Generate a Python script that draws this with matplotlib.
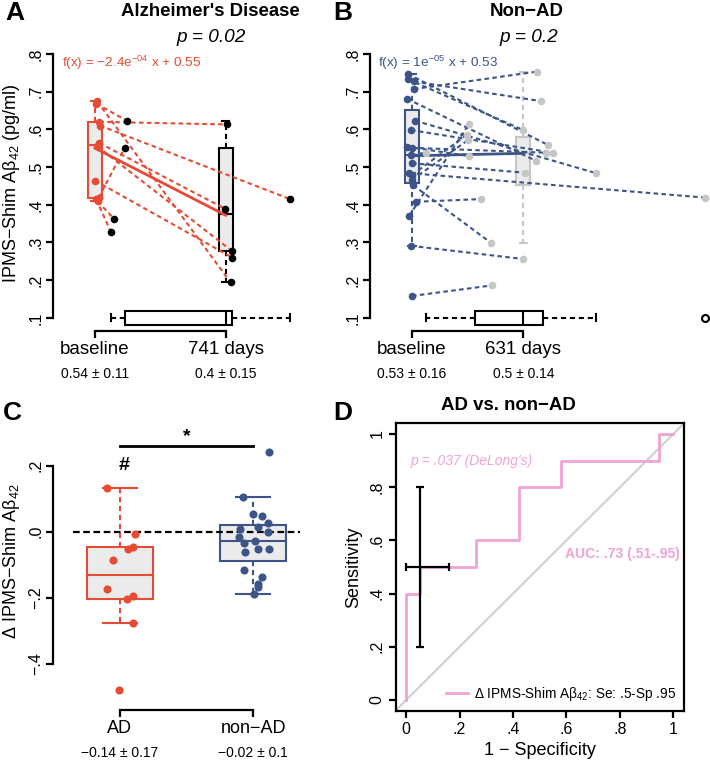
import numpy as np
import matplotlib
matplotlib.use('Agg')
import matplotlib.pyplot as plt
from matplotlib.transforms import blended_transform_factory

plt.rcParams['font.family'] = ['Liberation Sans', 'DejaVu Sans']
plt.rcParams['mathtext.fontset'] = 'custom'
plt.rcParams['mathtext.rm'] = 'Liberation Sans'
plt.rcParams['mathtext.it'] = 'Liberation Sans:italic'
plt.rcParams['mathtext.bf'] = 'Liberation Sans:bold'
plt.rcParams['axes.linewidth'] = 1.6

RED = '#E64B35'
BLUE = '#3C5488'
PINK = '#F0A4D4'
GREY = '#C6C6C6'
FILL = '#EBEBEB'

# A: Alzheimer's disease, one entry per subject
ad_base = [0.674, 0.668, 0.620, 0.610, 0.564, 0.555, 0.464, 0.418, 0.414, 0.409]
ad_follow = [0.194, 0.622, 0.613, 0.415, 0.390, 0.278, 0.260, 0.550, 0.328, 0.363]
ad_days = [769, 184, 747, 1106, 735, 775, 778, 168, 90, 107]
ad_jitter = [13, 8, 25, 28, 24, 13, 0, 20, 8, 15]
ad_fit = (-2.4e-4, 0.55)
ad_stats = ['0.54 ± 0.11', '0.4 ± 0.15']

# B: non-AD
nad_base = [0.747, 0.733, 0.727, 0.707, 0.681, 0.623, 0.598, 0.554, 0.551, 0.532,
            0.510, 0.484, 0.479, 0.466, 0.452, 0.408, 0.370, 0.291, 0.158]
nad_follow = [0.559, 0.598, 0.675, 0.753, 0.517, 0.484, 0.538, 0.529, 0.538, 0.538,
              0.485, 0.419, 0.585, 0.572, 0.299, 0.415, 0.614, 0.256, 0.186]
nad_days = [769, 631, 730, 707, 701, 1042, 801, 325, 760, 79,
            640, 1661, 310, 319, 448, 391, 323, 631, 452]
nad_jitter = [-23, -23, 11, 11, -28, 17, -6, -28, 0, -6,
              0, -17, 0, 0, 6, 23, -17, -6, 0]
nad_fit = (1e-5, 0.53)
nad_stats = ['0.53 ± 0.16', '0.5 ± 0.14']

# C: change from baseline
ad_delta = [0.132, -0.007, -0.052, -0.046, -0.086, -0.174, -0.204, -0.195, -0.277, -0.480]
ad_delta_jit = [-0.10, 0.11, 0.06, 0.10, -0.05, -0.10, 0.05, 0.10, 0.10, -0.01]
nad_delta = [0.242, 0.105, 0.053, 0.046, 0.026, 0.014, 0.008, -0.001, -0.015, -0.027,
             -0.035, -0.053, -0.053, -0.061, -0.116, -0.136, -0.158, -0.167, -0.190]
nad_delta_jit = [0.12, -0.075, 0.0, 0.068, 0.113, 0.038, -0.098, 0.113, -0.105, 0.015,
                 -0.068, 0.038, 0.12, -0.06, -0.068, 0.068, 0.038, 0.038, 0.008]
groups = ['AD', 'non−AD']
delta_stats = ['−0.14 ± 0.17', '−0.02 ± 0.1']

# D: ROC curve
roc_fpr = [0, 0, 0.053, 0.053, 0.263, 0.263, 0.421, 0.421, 0.579, 0.579, 0.947, 0.947, 1]
roc_tpr = [0, 0.4, 0.4, 0.5, 0.5, 0.6, 0.6, 0.8, 0.8, 0.9, 0.9, 1.0, 1.0]
cut_sens, cut_spec = 0.5, 0.95
sens_ci = (0.2, 0.8)
spec_ci = (0.84, 1.0)

W, H = 710, 760
fig = plt.figure(figsize=(W / 100, H / 100), dpi=100)


def fx(px):
    return px / W


def fy(py):
    return 1 - py / H


def add_ax(x0, y0, x1, y1):
    # pixel box, y measured from the top
    ax = fig.add_axes([x0 / W, 1 - y1 / H, (x1 - x0) / W, (y1 - y0) / H])
    ax.patch.set_visible(False)
    return ax


def box_stats(v):
    # Tukey hinges as in R's boxplot
    v = np.sort(np.asarray(v, float))
    n = len(v)
    n4 = np.floor((n + 3) / 2) / 2
    d = np.array([1, n4, (n + 1) / 2, n + 1 - n4, n]) - 1
    fn = 0.5 * (v[np.floor(d).astype(int)] + v[np.ceil(d).astype(int)])
    iqr = fn[3] - fn[1]
    ok = (v >= fn[1] - 1.5 * iqr) & (v <= fn[3] + 1.5 * iqr)
    return dict(med=fn[2], q1=fn[1], q3=fn[3], whislo=v[ok].min(),
                whishi=v[ok].max(), fliers=v[~ok])


def draw_box(ax, data, pos, width, col, orient='vertical', fliers=False, face=FILL):
    ax.bxp([box_stats(data)], positions=[pos], widths=width, orientation=orient,
           patch_artist=True, showfliers=fliers,
           boxprops=dict(facecolor=face, edgecolor=col, linewidth=1.5),
           medianprops=dict(color=col, linewidth=1.5),
           whiskerprops=dict(color=col, linewidth=1.5, linestyle=(0, (2.5, 1.8))),
           capprops=dict(color=col, linewidth=1.5),
           flierprops=dict(marker='o', markerfacecolor='none', markeredgecolor='black',
                           markersize=5, markeredgewidth=1.5))


DASH = (0, (2.2, 1.6))


def change_panel(ax, base, follow, days, jitter, fit, col, fcol, stats, xmax):
    med = np.median(days)
    draw_box(ax, days, 0.1, 0.037, 'black', orient='horizontal', fliers=True, face='white')
    draw_box(ax, base, 0, 80, col)
    draw_box(ax, follow, med, 80, fcol)
    for j, b, d, f in zip(jitter, base, days, follow):
        ax.plot([j, d], [b, f], color=col, lw=1.5, ls=DASH, zorder=3)
    xs = np.array([0, med])
    ax.plot(xs, fit[0] * xs + fit[1], color=col, lw=2, zorder=4)
    ax.scatter(jitter, base, s=30, color=col, zorder=5, linewidths=0)
    ax.scatter(days, follow, s=30, color=fcol, zorder=5, linewidths=0)

    ax.set_xlim(-238, xmax)
    ax.set_ylim(0.028, 0.837)
    ax.spines[['top', 'right']].set_visible(False)
    ax.spines['left'].set_bounds(0.1, 0.8)
    ax.spines['bottom'].set_position(('data', 0.0655))
    ax.spines['bottom'].set_bounds(0, med)
    yt = np.round(np.arange(0.1, 0.81, 0.1), 1)
    ax.set_yticks(yt, [('%.1f' % t)[1:] for t in yt], rotation=90, va='center')
    ax.set_xticks([0, med], ['baseline', '%d days' % med])
    ax.tick_params(axis='y', length=5, width=1.6, labelsize=11.5, pad=2)
    ax.tick_params(axis='x', length=5, width=1.6, labelsize=13.5, pad=2)
    tr = blended_transform_factory(ax.transData, fig.transFigure)
    for x, s in zip([0, med], stats):
        ax.text(x, fy(374), s, transform=tr, ha='center', va='center', fontsize=10)


# ---- panels A and B
axA = add_ax(53, 40, 345, 345)
change_panel(axA, ad_base, ad_follow, ad_days, ad_jitter, ad_fit, RED, 'black', ad_stats,
             (345 - 95) * 5.67)
axB = add_ax(370, 40, 710, 345)
change_panel(axB, nad_base, nad_follow, nad_days, nad_jitter, nad_fit, BLUE, GREY, nad_stats,
             (710 - 412) * 5.67)

fig.text(fx(12), fy(183), 'IPMS−Shim Aβ$_{42}$ (pg/ml)', rotation=90, ha='center', va='center',
         fontsize=13)
fig.text(fx(210), fy(12), "Alzheimer's Disease", ha='center', va='center', fontsize=13.4,
         fontweight='bold')
fig.text(fx(211), fy(37), 'p = 0.02', ha='center', va='center', fontsize=13.7, style='italic')
fig.text(fx(527), fy(12), 'Non−AD', ha='center', va='center', fontsize=13.4, fontweight='bold')
fig.text(fx(529), fy(37), 'p = 0.2', ha='center', va='center', fontsize=13.7, style='italic')
fig.text(fx(62), fy(63), 'f(x) = −2.4e$^{−04}$ x + 0.55', color=RED, ha='left', va='center',
         fontsize=9.7)
fig.text(fx(378), fy(63), 'f(x) = 1e$^{−05}$ x + 0.53', color=BLUE, ha='left', va='center',
         fontsize=9.7)

# ---- panel C
axC = add_ax(53, 430, 330, 720)
draw_box(axC, ad_delta, 1, 0.5, RED)
draw_box(axC, nad_delta, 2, 0.5, BLUE)
axC.hlines(0, 0.65, 2.35, colors='black', lw=1.6, linestyles=(0, (3, 1.6)), zorder=4)
axC.scatter(1 + np.array(ad_delta_jit), ad_delta, s=34, color=RED, zorder=5, linewidths=0)
axC.scatter(2 + np.array(nad_delta_jit), nad_delta, s=34, color=BLUE, zorder=5, linewidths=0)
axC.plot([1, 2], [0.26, 0.26], color='black', lw=2, clip_on=False)
axC.text(1.5, 0.288, '*', ha='center', va='center', fontsize=14, fontweight='bold')
axC.text(1.03, 0.2, '#', ha='center', va='center', fontsize=14, fontweight='bold')
axC.set_xlim(0.4974, 2.578)
axC.set_ylim(-0.5706, 0.308)
axC.spines[['top', 'right']].set_visible(False)
axC.spines['left'].set_bounds(-0.4, 0.2)
axC.spines['bottom'].set_position(('data', -0.54))
axC.spines['bottom'].set_bounds(1, 2)
axC.set_yticks([-0.4, -0.2, 0, 0.2], ['−.4', '−.2', '.0', '.2'], rotation=90, va='center')
axC.set_xticks([1, 2], groups)
axC.tick_params(axis='y', length=5, width=1.6, labelsize=11.5, pad=2)
axC.tick_params(axis='x', length=5, width=1.6, labelsize=13, pad=2)
trC = blended_transform_factory(axC.transData, fig.transFigure)
for x, s in zip([1, 2], delta_stats):
    axC.text(x, fy(753), s, transform=trC, ha='center', va='center', fontsize=10)
fig.text(fx(12), fy(561), 'Δ IPMS−Shim Aβ$_{42}$', rotation=90, ha='center', va='center',
         fontsize=13)

# ---- panel D
axD = add_ax(395.5, 423.4, 684, 710.6)
axD.patch.set_visible(True)
axD.axline((0, 0), (1, 1), color='#D0D0D0', lw=1.5, zorder=1)
axD.plot(roc_fpr, roc_tpr, color=PINK, lw=2,
         label='Δ IPMS-Shim Aβ$_{42}$: Se: .5-Sp .95', zorder=3)
axD.errorbar(1 - cut_spec, cut_sens,
             xerr=[[(1 - cut_spec) - (1 - spec_ci[1])], [(1 - spec_ci[0]) - (1 - cut_spec)]],
             yerr=[[cut_sens - sens_ci[0]], [sens_ci[1] - cut_sens]],
             fmt='none', ecolor='black', elinewidth=1.6, capsize=3, capthick=1.6, zorder=4)
axD.text(0.015, 0.9, "p = .037 (DeLong's)", color=PINK, style='italic', fontsize=10,
         ha='left', va='center')
axD.text(1.025, 0.55, 'AUC: .73 (.51-.95)', color=PINK, fontweight='bold', fontsize=10,
         ha='right', va='center')
axD.legend(loc='lower right', frameon=False, fontsize=9.8, handlelength=1.6,
           handletextpad=0.5, borderaxespad=0.15)
axD.set_xlim(-0.04, 1.04)
axD.set_ylim(-0.04, 1.04)
ticks = [0, 0.2, 0.4, 0.6, 0.8, 1]
tlab = ['0', '.2', '.4', '.6', '.8', '1']
axD.set_xticks(ticks, tlab)
axD.set_yticks(ticks, tlab, rotation=90, va='center')
axD.tick_params(length=5, width=1.6, labelsize=11.5, pad=3)
axD.set_xlabel('1 − Specificity', fontsize=13, labelpad=4)
axD.set_ylabel('Sensitivity', fontsize=13, labelpad=5)
fig.text(fx(508), fy(405), 'AD vs. non−AD', ha='center', va='center', fontsize=13.4,
         fontweight='bold')

for lab, (x, y) in zip('ABCD', [(15, 13), (343, 13), (12, 413), (343, 413)]):
    fig.text(fx(x), fy(y), lab, ha='center', va='center', fontsize=19, fontweight='bold')

fig.savefig('out.png', dpi=100)
